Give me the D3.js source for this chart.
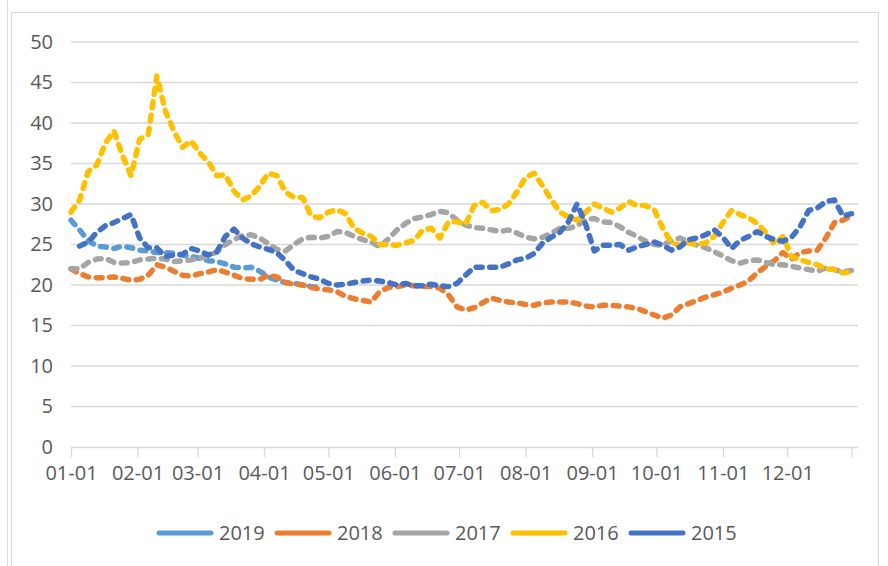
<!DOCTYPE html>
<html>
<head>
<meta charset="utf-8">
<script src="https://cdn.jsdelivr.net/npm/d3@7"></script>
<style>
  body { margin: 0; background: #fff; }
  text { font-family: "Open Sans", "Liberation Sans", sans-serif; fill: #595959; }
</style>
</head>
<body>
<div id="chart"></div>
<script>
// Sample days (every 4 days through the year) and month tick labels
const days = d3.range(0, 365, 4)
const monthDays = [0, 31, 59, 90, 120, 151, 181, 212, 243, 273, 304, 334, 364]
const monthLabels = ["01-01", "02-01", "03-01", "04-01", "05-01", "06-01", "07-01",
                     "08-01", "09-01", "10-01", "11-01", "12-01", ""]
const yTicks = [0, 5, 10, 15, 20, 25, 30, 35, 40, 45, 50]

const years = ["2019", "2018", "2017", "2016", "2015"]
const colors = ["#5B9BD5", "#ED7D31", "#A5A5A5", "#FFC000", "#4472C4"]

// values, one per sample day
const v2019 = [28, 26.8, 25.5, 24.8, 24.7, 24.5, 24.8, 24.6, 24.3, 24.2, 24, 24, 23.9, 23.7, 23.5,
  23.3, 23, 22.9, 22.6, 22.2, 22.1, 22.2, 21.7, 21, 20.6, 20.3, 20.2, 20, 19.8, 19.7]

const v2018 = [22, 21.4, 21, 20.9, 20.9, 21, 20.8, 20.6, 20.7, 21.2, 22.5, 22.2, 21.7, 21.2, 21.1,
  21.4, 21.6, 21.9, 21.6, 21.2, 20.8, 20.7, 20.7, 21.2, 21, 20.3, 20.1, 20, 19.7, 19.5,
  19.4, 19.2, 18.6, 18.3, 18.1, 17.9, 19.2, 19.7, 19.8, 20, 19.9, 19.8, 19.8, 19.6, 18.8,
  17.3, 16.9, 17.2, 17.8, 18.4, 18.1, 17.9, 17.8, 17.6, 17.5, 17.8, 17.9, 17.9, 17.9, 17.7,
  17.4, 17.3, 17.5, 17.5, 17.4, 17.3, 17.1, 16.7, 16.3, 15.9, 16.3, 17.3, 17.7, 18.1, 18.5,
  18.8, 19.1, 19.6, 20, 20.5, 21.5, 22.3, 23, 24, 23.2, 24, 24.2, 24.3, 25.8, 27.7,
  28, 28.6]

const v2017 = [22, 22, 22.8, 23.2, 23.3, 22.8, 22.7, 22.8, 23.1, 23.2, 23.3, 23.2, 22.9, 23, 23.1,
  23.3, 23.6, 24.1, 25, 25.6, 26.1, 26.2, 25.8, 25.1, 24.4, 24.2, 25, 25.7, 25.9, 25.8,
  26, 26.6, 26.5, 26, 25.6, 25.3, 24.7, 25.7, 26.8, 27.6, 28.2, 28.4, 28.7, 29.1, 28.9,
  28, 27.4, 27.1, 27, 26.8, 26.6, 26.8, 26.4, 25.9, 25.7, 25.9, 26.4, 27, 27, 27.3,
  28.1, 28.2, 27.8, 27.7, 27.2, 26.5, 26, 25.4, 25, 24.9, 25.5, 25.8, 25.3, 24.9, 24.6,
  24.1, 23.6, 23, 22.7, 23, 23.1, 22.8, 22.5, 22.5, 22.3, 22.1, 21.9, 21.7, 22.1, 21.9,
  21.6, 21.8]

const v2016 = [29, 30.5, 34, 34.8, 37.5, 39, 36, 33.5, 38, 38.5, 45.8, 41.5, 39, 37, 37.8,
  36.3, 35.2, 33.5, 33.6, 31.6, 30.5, 31, 32.2, 33.8, 33.5, 31.5, 30.8, 30.8, 28.5, 28.3,
  29, 29.3, 28.8, 27, 26.4, 26, 25, 25, 24.9, 25.2, 25.5, 26.8, 27, 25.8, 27.8,
  27.8, 27.5, 29.8, 30.2, 29.2, 29.3, 30, 31.5, 33.3, 33.8, 32.2, 30.5, 29, 28.4, 28,
  29, 30, 29.5, 29, 29.5, 30.3, 29.8, 29.8, 29.3, 27, 25.2, 24.9, 25.2, 25, 25.2,
  26, 27.7, 29.2, 28.7, 28.3, 27.6, 26.5, 25, 26, 23.5, 23.1, 22.8, 22.5, 22, 21.9,
  21.5, 21.6]

const v2015 = [null, 24.8, 25.3, 26.5, 27.3, 27.7, 28.2, 28.7, 25.8, 24.6, 24.6, 23.5, 23.7, 23.8, 24.5,
  24.2, 23.7, 24.1, 26, 26.9, 25.8, 25.1, 24.7, 24.4, 24, 23, 21.8, 21.4, 21, 20.7,
  20.2, 20, 20.1, 20.3, 20.5, 20.6, 20.5, 20.3, 20, 20.2, 19.9, 19.9, 20.1, 19.9, 19.8,
  20.2, 21.2, 22.2, 22.2, 22.2, 22.2, 22.6, 23.1, 23.3, 23.9, 25.2, 25.9, 26.5, 27.8, 30,
  27.5, 24.2, 24.9, 24.9, 25, 24.3, 24.7, 25, 25.3, 24.9, 24.3, 24.7, 25.6, 25.8, 26.2,
  26.8, 25.9, 24.5, 25.5, 26, 26.6, 26, 25.6, 25.4, 25.9, 27.2, 29.2, 29.5, 30.3, 30.5,
  28.5, 28.8]

const seriesValues = [v2019, v2018, v2017, v2016, v2015]

const W = 888, H = 566
const margin = {top: 42, right: 30, bottom: 119, left: 71}
const width = W - margin.left - margin.right,
      height = H - margin.top - margin.bottom

const svg = d3.select("#chart")
  .append("svg")
  .attr("width", W)
  .attr("height", H)

// outer frame
svg.append("line")
  .attr("x1", 7.5).attr("x2", 7.5).attr("y1", 0).attr("y2", H)
  .attr("stroke", "#d9d9d9")
svg.append("rect")
  .attr("x", 11.5).attr("y", 12.5).attr("width", 867).attr("height", 570)
  .attr("fill", "none").attr("stroke", "#d9d9d9")

const g = svg.append("g")
  .attr("transform", `translate(${margin.left},${margin.top})`)

const x = d3.scaleLinear().domain([0, 367]).range([0, width])
const y = d3.scaleLinear().domain([0, 50]).range([height, 0])

// horizontal gridlines
g.append("g")
  .selectAll("line")
  .data(yTicks.slice(1))
  .join("line")
  .attr("x1", 0).attr("x2", width)
  .attr("y1", d => y(d)).attr("y2", d => y(d))
  .attr("stroke", "#d9d9d9")
  .attr("stroke-width", 1.3)

// y axis labels
g.append("g")
  .call(d3.axisLeft(y).tickValues(yTicks).tickSize(0).tickPadding(18))
  .call(a => a.select(".domain").remove())
  .selectAll("text")
  .style("font-size", "20px")
  .attr("fill", "#595959")

// x axis
const xAxis = g.append("g")
  .attr("transform", `translate(0,${height})`)
  .call(d3.axisBottom(x).tickValues(monthDays).tickSize(10).tickPadding(9)
    .tickFormat((d, i) => monthLabels[i]))
xAxis.select(".domain")
  .attr("d", `M0,0.5H${width}`)
  .attr("stroke", "#d9d9d9").attr("stroke-width", 1.3)
xAxis.selectAll(".tick line").attr("stroke", "#d9d9d9").attr("stroke-width", 1.3)
xAxis.selectAll("text")
  .style("font-size", "20px")
  .attr("fill", "#595959")

// series lines
const line = d3.line()
  .defined(d => d[1] != null)
  .x(d => x(d[0]))
  .y(d => y(d[1]))

years.forEach((yr, i) => {
  const vals = seriesValues[i]
  const pts = vals.map((v, j) => [days[j], v])
  g.append("path")
    .datum(pts)
    .attr("fill", "none")
    .attr("stroke", colors[i])
    .attr("stroke-width", 5.5)
    .attr("stroke-linecap", "round")
    .attr("stroke-linejoin", "round")
    .attr("stroke-dasharray", "6,7.5")
    .attr("d", line)
})

// legend
const legend = svg.append("g")
  .attr("transform", "translate(159,533)")

const item = legend.selectAll("g")
  .data(years)
  .join("g")
  .attr("transform", (d, i) => `translate(${i * 118},0)`)

item.append("line")
  .attr("x1", 0).attr("x2", 52)
  .attr("stroke", (d, i) => colors[i])
  .attr("stroke-width", 5)
  .attr("stroke-linecap", "round")

item.append("text")
  .attr("x", 60)
  .attr("dy", "0.35em")
  .style("font-size", "20px")
  .text(d => d)
</script>
</body>
</html>
